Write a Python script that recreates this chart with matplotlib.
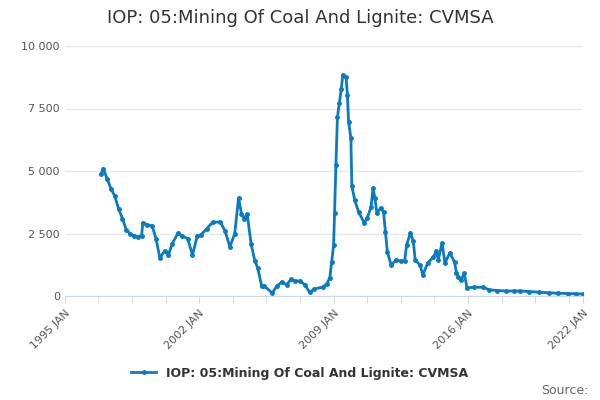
import matplotlib
matplotlib.use("Agg")
import matplotlib.pyplot as plt
import numpy as np

years = [1996.9,1997.0,1997.2,1997.4,1997.6,1997.8,1998.0,1998.2,1998.4,1998.6,1998.8,1999.0,1999.06,1999.3,1999.55,1999.75,1999.95,2000.2,2000.4,2000.6,2000.9,2001.1,2001.4,2001.65,2001.9,2002.1,2002.4,2002.7,2003.1,2003.35,2003.6,2003.85,2004.05,2004.2,2004.35,2004.5,2004.7,2004.9,2005.05,2005.25,2005.4,
         2005.8,2006.05,2006.3,2006.55,2006.8,2007.0,2007.25,2007.5,2007.75,2008.0,
         2008.45,2008.65,2008.8,2008.9,2009.0,2009.05,2009.12,2009.2,2009.3,2009.4,2009.48,2009.65,2009.72,2009.78,2009.9,2009.95,2010.1,2010.3,2010.6,2010.75,2010.95,2011.05,2011.15,2011.25,2011.45,2011.6,2011.7,2011.8,2012.0,2012.25,2012.5,2012.7,2012.8,2013.0,2013.15,2013.25,2013.5,2013.65,2013.9,2014.2,2014.35,2014.45,2014.65,2014.8,2015.05,2015.3,2015.4,2015.5,2015.65,2015.8,2015.95,2016.3,2016.8,2017.1,2017.5,2018.0,2018.4,2018.7,2019.2,2019.7,2020.2,2020.7,2021.2,2021.6,2022.0]
values = [4900,5100,4700,4300,4000,3500,3100,2650,2500,2400,2380,2400,2920,2850,2800,2300,1520,1800,1650,2100,2520,2400,2300,1640,2400,2450,2700,2950,2960,2600,1960,2500,3920,3300,3100,3280,2100,1400,1120,400,400,
          120,400,560,450,680,600,600,450,150,280,
          360,500,720,1360,2040,3320,5240,7160,7720,8280,8840,8760,8040,6960,6320,4400,3840,3360,2920,3120,3560,4320,3920,3320,3520,3360,2560,1760,1240,1440,1400,1400,2040,2520,2200,1440,1240,840,1320,1560,1800,1440,2120,1320,1720,1360,920,760,640,920,320,350,350,250,220,200,200,200,180,150,130,110,100,90,80]
series_label = "IOP: 05:Mining Of Coal And Lignite: CVMSA"
tick_years = [1995, 2002, 2009, 2016, 2022]
tick_labels = ["1995 JAN", "2002 JAN", "2009 JAN", "2016 JAN", "2022 JAN"]

fig = plt.figure(figsize=(6, 4), dpi=100)
ax = fig.add_axes([0.108, 0.26, 0.864, 0.625])
ax.plot(years, values, color="#0a7bc1", lw=2, marker="o", ms=2.5, label=series_label)
ax.set_xlim(1995, 2022)
ax.set_ylim(0, 10000)
ax.set_yticks([0, 2500, 5000, 7500, 10000])
ax.set_yticklabels(["0", "2 500", "5 000", "7 500", "10 000"], fontsize=8, color="#555555")
ax.set_xticks(tick_years)
ax.set_xticklabels(tick_labels, rotation=45, ha="right", fontsize=8, color="#555555", rotation_mode="anchor")
ax.set_xticks(np.arange(1995, 2022, 1.75), minor=True)
ax.tick_params(axis="x", which="both", length=5, color="#ccd6eb")
ax.tick_params(axis="y", length=0)
ax.grid(axis="y", color="#e6e6e6", lw=1)
ax.set_axisbelow(True)
for s in ["top", "right", "left"]:
    ax.spines[s].set_visible(False)
ax.spines["bottom"].set_color("#ccd6eb")
fig.text(0.5, 0.955, "IOP: 05:Mining Of Coal And Lignite: CVMSA", ha="center", va="center", fontsize=13, color="#333333")
fig.legend(loc="center", bbox_to_anchor=(0.5, 0.067), frameon=False, prop={"size": 9, "weight": "bold"}, labelcolor="#333333", handlelength=2)
fig.text(0.98, 0.025, "Source:", ha="right", va="center", fontsize=9, color="#666666")
fig.savefig("out.png", dpi=100)
